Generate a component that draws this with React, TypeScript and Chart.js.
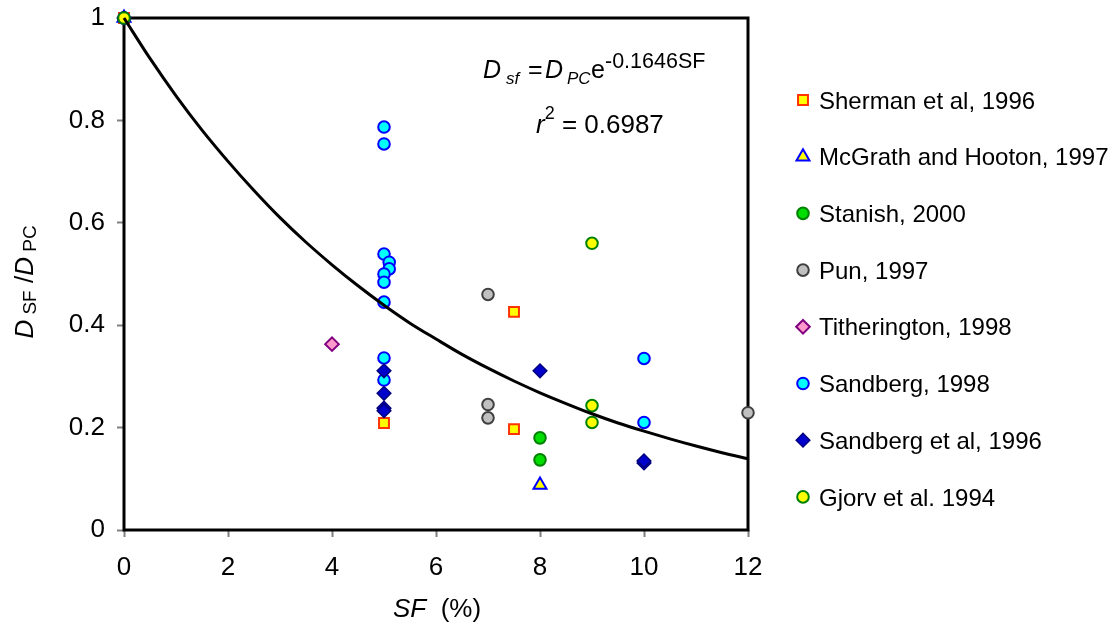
import React, { useEffect, useRef } from 'react';
import { Chart, registerables } from 'chart.js';

Chart.register(...registerables);

// ---- data ----
const xTickValues = [0, 2, 4, 6, 8, 10, 12];
const yTickValues = [0, 0.2, 0.4, 0.6, 0.8, 1];

const shermanX = [0, 5, 7.5, 7.5];
const shermanY = [1, 0.209, 0.426, 0.197];

const mcgrathX = [0, 8];
const mcgrathY = [1, 0.088];

const stanishX = [0, 8, 8];
const stanishY = [1, 0.18, 0.137];

const punX = [0, 7, 7, 7, 12];
const punY = [1, 0.46, 0.245, 0.219, 0.229];

const titheringtonX = [4];
const titheringtonY = [0.363];

const sandberg98X = [0, 5, 5, 5, 5.1, 5.1, 5, 5, 5, 5, 5, 10, 10];
const sandberg98Y = [1, 0.787, 0.754, 0.539, 0.523, 0.51, 0.5, 0.484, 0.445, 0.336, 0.293, 0.335, 0.21];

const sandberg96X = [0, 5, 5, 5, 5, 8, 10, 10];
const sandberg96Y = [1, 0.311, 0.267, 0.238, 0.233, 0.311, 0.131, 0.135];

const gjorvX = [0, 9, 9, 9];
const gjorvY = [1, 0.56, 0.243, 0.21];

const curveX = [0, 0.5, 1, 1.5, 2, 2.5, 3, 3.5, 4, 4.5, 5, 5.5, 6, 6.5, 7, 7.5, 8, 8.5, 9, 9.5, 10, 10.5, 11, 11.5, 12];
const curveY = [1.0, 0.921, 0.848, 0.781, 0.72, 0.663, 0.61, 0.562, 0.518, 0.477, 0.439, 0.404, 0.373, 0.343, 0.316, 0.291, 0.268, 0.247, 0.227, 0.209, 0.193, 0.178, 0.164, 0.151, 0.139];

const seriesLabels = [
  'Sherman et al, 1996',
  'McGrath and Hooton, 1997',
  'Stanish, 2000',
  'Pun, 1997',
  'Titherington, 1998',
  'Sandberg, 1998',
  'Sandberg et al, 1996',
  'Gjorv et al. 1994',
];
const seriesX = [shermanX, mcgrathX, stanishX, punX, titheringtonX, sandberg98X, sandberg96X, gjorvX];
const seriesY = [shermanY, mcgrathY, stanishY, punY, titheringtonY, sandberg98Y, sandberg96Y, gjorvY];

// ---- styles ----
type MStyle = { shape: string; r: number; fill: string; stroke: string; bw: number };
const seriesStyles: MStyle[] = [
  { shape: 'rect', r: 7, fill: '#ffff00', stroke: '#ff3300', bw: 2 },
  { shape: 'triangle', r: 7.5, fill: '#ffff00', stroke: '#0000ff', bw: 2 },
  { shape: 'circle', r: 5.8, fill: '#00dd00', stroke: '#008000', bw: 2 },
  { shape: 'circle', r: 5.8, fill: '#c0c0c0', stroke: '#404040', bw: 2 },
  { shape: 'rectRot', r: 6.8, fill: '#ff99cc', stroke: '#800080', bw: 2 },
  { shape: 'circle', r: 5.8, fill: '#00ffff', stroke: '#0000ff', bw: 2 },
  { shape: 'rectRot', r: 6.8, fill: '#0000cc', stroke: '#000080', bw: 1.5 },
  { shape: 'circle', r: 5.8, fill: '#ffff00', stroke: '#008000', bw: 2 },
];

const FONT = '"Liberation Sans", Arial, sans-serif';

function drawMarker(ctx: CanvasRenderingContext2D, s: MStyle, x: number, y: number) {
  const r = s.r;
  ctx.beginPath();
  if (s.shape === 'circle') {
    ctx.arc(x, y, r, 0, Math.PI * 2);
  } else if (s.shape === 'rect') {
    const h = r * Math.SQRT1_2;
    ctx.rect(x - h, y - h, 2 * h, 2 * h);
  } else if (s.shape === 'rectRot') {
    ctx.moveTo(x - r, y);
    ctx.lineTo(x, y - r);
    ctx.lineTo(x + r, y);
    ctx.lineTo(x, y + r);
    ctx.closePath();
  } else if (s.shape === 'triangle') {
    let rad = 0;
    ctx.moveTo(x + Math.sin(rad) * r, y - Math.cos(rad) * r);
    rad += (2 * Math.PI) / 3;
    ctx.lineTo(x + Math.sin(rad) * r, y - Math.cos(rad) * r);
    rad += (2 * Math.PI) / 3;
    ctx.lineTo(x + Math.sin(rad) * r, y - Math.cos(rad) * r);
    ctx.closePath();
  }
  ctx.fillStyle = s.fill;
  ctx.fill();
  ctx.lineWidth = s.bw;
  ctx.strokeStyle = s.stroke;
  ctx.stroke();
}

type Run = { t: string; size: number; italic?: boolean; dy?: number; x?: number };

function runsWidth(ctx: CanvasRenderingContext2D, runs: Run[]) {
  let w = 0;
  for (const r of runs) {
    ctx.font = `${r.italic ? 'italic ' : ''}${r.size}px ${FONT}`;
    w += ctx.measureText(r.t).width;
  }
  return w;
}

function drawRuns(ctx: CanvasRenderingContext2D, runs: Run[], x: number, y: number) {
  let cx = x;
  ctx.textBaseline = 'alphabetic';
  ctx.textAlign = 'left';
  ctx.fillStyle = '#000';
  for (const r of runs) {
    ctx.font = `${r.italic ? 'italic ' : ''}${r.size}px ${FONT}`;
    if (r.x !== undefined) cx = r.x;
    ctx.fillText(r.t, cx, y + (r.dy || 0));
    cx += ctx.measureText(r.t).width;
  }
}

const overlay = {
  id: 'overlay',
  beforeDatasetsDraw(chart: any) {
    const { ctx, chartArea: a } = chart;
    ctx.save();
    ctx.strokeStyle = '#000';
    ctx.lineWidth = 3;
    ctx.strokeRect(a.left, a.top, a.right - a.left, a.bottom - a.top);
    ctx.restore();
  },
  afterDraw(chart: any) {
    const { ctx, chartArea: a } = chart;
    ctx.save();
    // legend
    const rowY0 = 100;
    const rowStep = 56.7;
    seriesLabels.forEach((lab, i) => {
      const y = rowY0 + i * rowStep;
      drawMarker(ctx, seriesStyles[i], 803, y);
      ctx.font = `24px ${FONT}`;
      ctx.fillStyle = '#000';
      ctx.textAlign = 'left';
      ctx.textBaseline = 'alphabetic';
      ctx.fillText(lab, 819, y + 8.6);
    });

    // equation
    drawRuns(ctx, [
      { t: 'D', size: 25, italic: true, x: 483 },
      { t: 'sf', size: 17, italic: true, dy: 6, x: 506 },
      { t: '=', size: 25, x: 528 },
      { t: 'D', size: 25, italic: true, x: 545 },
      { t: 'PC', size: 17, italic: true, dy: 6, x: 567 },
      { t: 'e', size: 25, x: 591 },
      { t: '-0.1646SF', size: 21.5, dy: -10, x: 605 },
    ], 484, 78);
    drawRuns(ctx, [
      { t: 'r', size: 26, italic: true },
      { t: '2', size: 18, dy: -14 },
      { t: ' = 0.6987', size: 26 },
    ], 536, 133);

    // x title
    const xRuns: Run[] = [
      { t: 'SF', size: 26, italic: true },
      { t: '  (%)', size: 26 },
    ];
    drawRuns(ctx, xRuns, 393, 617);

    // y title (rotated)
    const yRuns: Run[] = [
      { t: 'D', size: 26, italic: true },
      { t: ' SF', size: 19, dy: 3 },
      { t: ' /', size: 26 },
      { t: 'D', size: 26, italic: true },
      { t: ' PC', size: 19, dy: 3 },
    ];
    const w = runsWidth(ctx, yRuns);
    const cy = (a.top + a.bottom) / 2 + 8;
    ctx.translate(33, cy + w / 2);
    ctx.rotate(-Math.PI / 2);
    drawRuns(ctx, yRuns, 0, 0);
    ctx.restore();
  },
};

export default function App() {
  const ref = useRef<HTMLCanvasElement | null>(null);
  useEffect(() => {
    document.body.style.margin = '0';
    const canvas = ref.current;
    if (!canvas) return;
    const datasets: any[] = [
      {
        label: 'fit',
        data: curveX.map((x, i) => ({ x, y: curveY[i] })),
        showLine: true,
        borderColor: '#000',
        borderWidth: 3,
        pointRadius: 0,
        cubicInterpolationMode: 'monotone',
        fill: false,
        clip: false,
        order: -1,
      },
    ];
    seriesLabels.forEach((lab, i) => {
      const s = seriesStyles[i];
      datasets.push({
        label: lab,
        data: seriesX[i].map((x, j) => ({ x, y: seriesY[i][j] })),
        pointStyle: s.shape,
        pointRadius: s.r,
        pointBackgroundColor: s.fill,
        pointBorderColor: s.stroke,
        pointBorderWidth: s.bw,
        showLine: false,
        clip: false,
        order: 10 - i,
      });
    });
    const chart = new Chart(canvas, {
      type: 'scatter',
      data: { datasets },
      options: {
        responsive: false,
        animation: false,
        devicePixelRatio: 1,
        layout: { padding: { top: 18, right: 365, left: 0, bottom: 0 } },
        plugins: { legend: { display: false }, tooltip: { enabled: false } },
        scales: {
          x: {
            type: 'linear',
            min: 0,
            max: 12,
            afterFit: (s: any) => { s.height = 96; s.paddingLeft = 0; s.paddingRight = 0; },
            afterBuildTicks: (s: any) => { s.ticks = xTickValues.map((v) => ({ value: v })); },
            ticks: {
              font: { size: 26, family: FONT },
              color: '#000',
              padding: 15,
              maxRotation: 0,
              callback: (v: any) => String(v),
            },
            grid: { drawOnChartArea: false, drawTicks: true, tickLength: 7, tickColor: '#808080', tickWidth: 2 },
            border: { display: false },
          },
          y: {
            type: 'linear',
            min: 0,
            max: 1,
            afterFit: (s: any) => { s.width = 124; s.paddingTop = 0; s.paddingBottom = 0; },
            afterBuildTicks: (s: any) => { s.ticks = yTickValues.map((v) => ({ value: v })); },
            ticks: {
              font: { size: 26, family: FONT },
              color: '#000',
              padding: 12,
              callback: (v: any) => String(Number(Number(v).toFixed(1))),
            },
            grid: { drawOnChartArea: false, drawTicks: true, tickLength: 7, tickColor: '#808080', tickWidth: 2 },
            border: { display: false },
          },
        },
      },
      plugins: [overlay],
    });
    return () => chart.destroy();
  }, []);
  return (
    <div style={{ position: 'absolute', left: 0, top: 0, width: 1113, height: 626, background: '#fff' }}>
      <canvas ref={ref} width={1113} height={626} style={{ width: 1113, height: 626, display: 'block' }} />
    </div>
  );
}
